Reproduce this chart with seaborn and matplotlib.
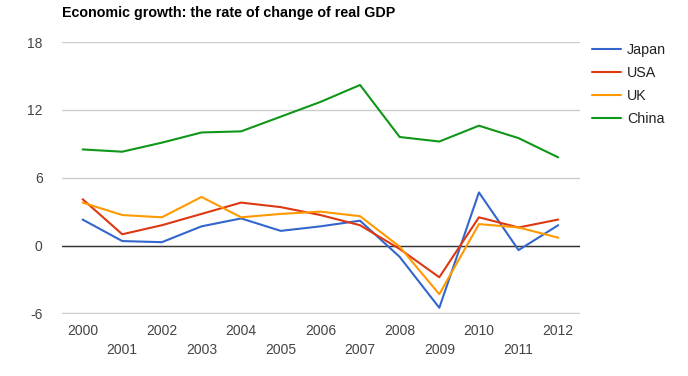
import matplotlib
matplotlib.use("Agg")
import matplotlib.pyplot as plt
import numpy as np
import pandas as pd
import seaborn as sns

# data (% change of real GDP)
years = list(range(2000, 2013))
japan = [2.3, 0.4, 0.3, 1.7, 2.4, 1.3, 1.7, 2.2, -1.0, -5.5, 4.7, -0.4, 1.8]
usa = [4.1, 1.0, 1.8, 2.8, 3.8, 3.4, 2.7, 1.8, -0.3, -2.8, 2.5, 1.6, 2.3]
uk = [3.8, 2.7, 2.5, 4.3, 2.5, 2.8, 3.0, 2.6, -0.1, -4.3, 1.9, 1.6, 0.7]
china = [8.5, 8.3, 9.1, 10.0, 10.1, 11.4, 12.7, 14.2, 9.6, 9.2, 10.6, 9.5, 7.8]
countries = ["Japan", "USA", "UK", "China"]
colors = ["#3366cc", "#dc3912", "#ff9900", "#109618"]

df = pd.DataFrame({
    "year": years * 4,
    "growth": japan + usa + uk + china,
    "country": sum([[c] * len(years) for c in countries], []),
})

sns.set_style("white")
plt.rcParams["font.family"] = ["Liberation Sans", "DejaVu Sans"]

fig = plt.figure(figsize=(6.88, 3.76), dpi=100)
ax = fig.add_axes([62 / 688, 1 - 314 / 376, (580 - 62) / 688, (314 - 42) / 376])

sns.lineplot(data=df, x="year", y="growth", hue="country", hue_order=countries,
             palette=colors, linewidth=1.5, ax=ax, zorder=3)

ax.set_xlim(1999.48, 2012.55)
ax.set_ylim(-6.05, 18)
ax.set_yticks([-6, 0, 6, 12, 18])
ax.set_yticklabels(["-6", "0", "6", "12", "18"])
ax.set_xticks(years)
ax.set_xticklabels([str(y) if y % 2 == 0 else "\n" + str(y) for y in years],
                   linespacing=1.4)
ax.tick_params(axis="both", length=0, labelsize=10, labelcolor="#444444")
ax.tick_params(axis="y", pad=14)
ax.tick_params(axis="x", pad=7.5)
ax.grid(axis="y", color="#cccccc", linewidth=1)
ax.axhline(0, color="#333333", linewidth=1, zorder=2)
for s in ax.spines.values():
    s.set_visible(False)
ax.set_xlabel("")
ax.set_ylabel("")

leg = ax.legend(loc="upper left", bbox_to_anchor=(592 / 688, 1 - 43 / 376),
                bbox_transform=fig.transFigure, frameon=False, fontsize=10.3,
                handlelength=2.0, handletextpad=0.45, labelspacing=0.62,
                borderpad=0, borderaxespad=0)
for t in leg.get_texts():
    t.set_color("#222222")

fig.text(62 / 688, 1 - 13 / 376, "Economic growth: the rate of change of real GDP",
         fontsize=10.3, fontweight="bold", va="center", ha="left", color="#000000")

fig.savefig("out.png", dpi=100)
